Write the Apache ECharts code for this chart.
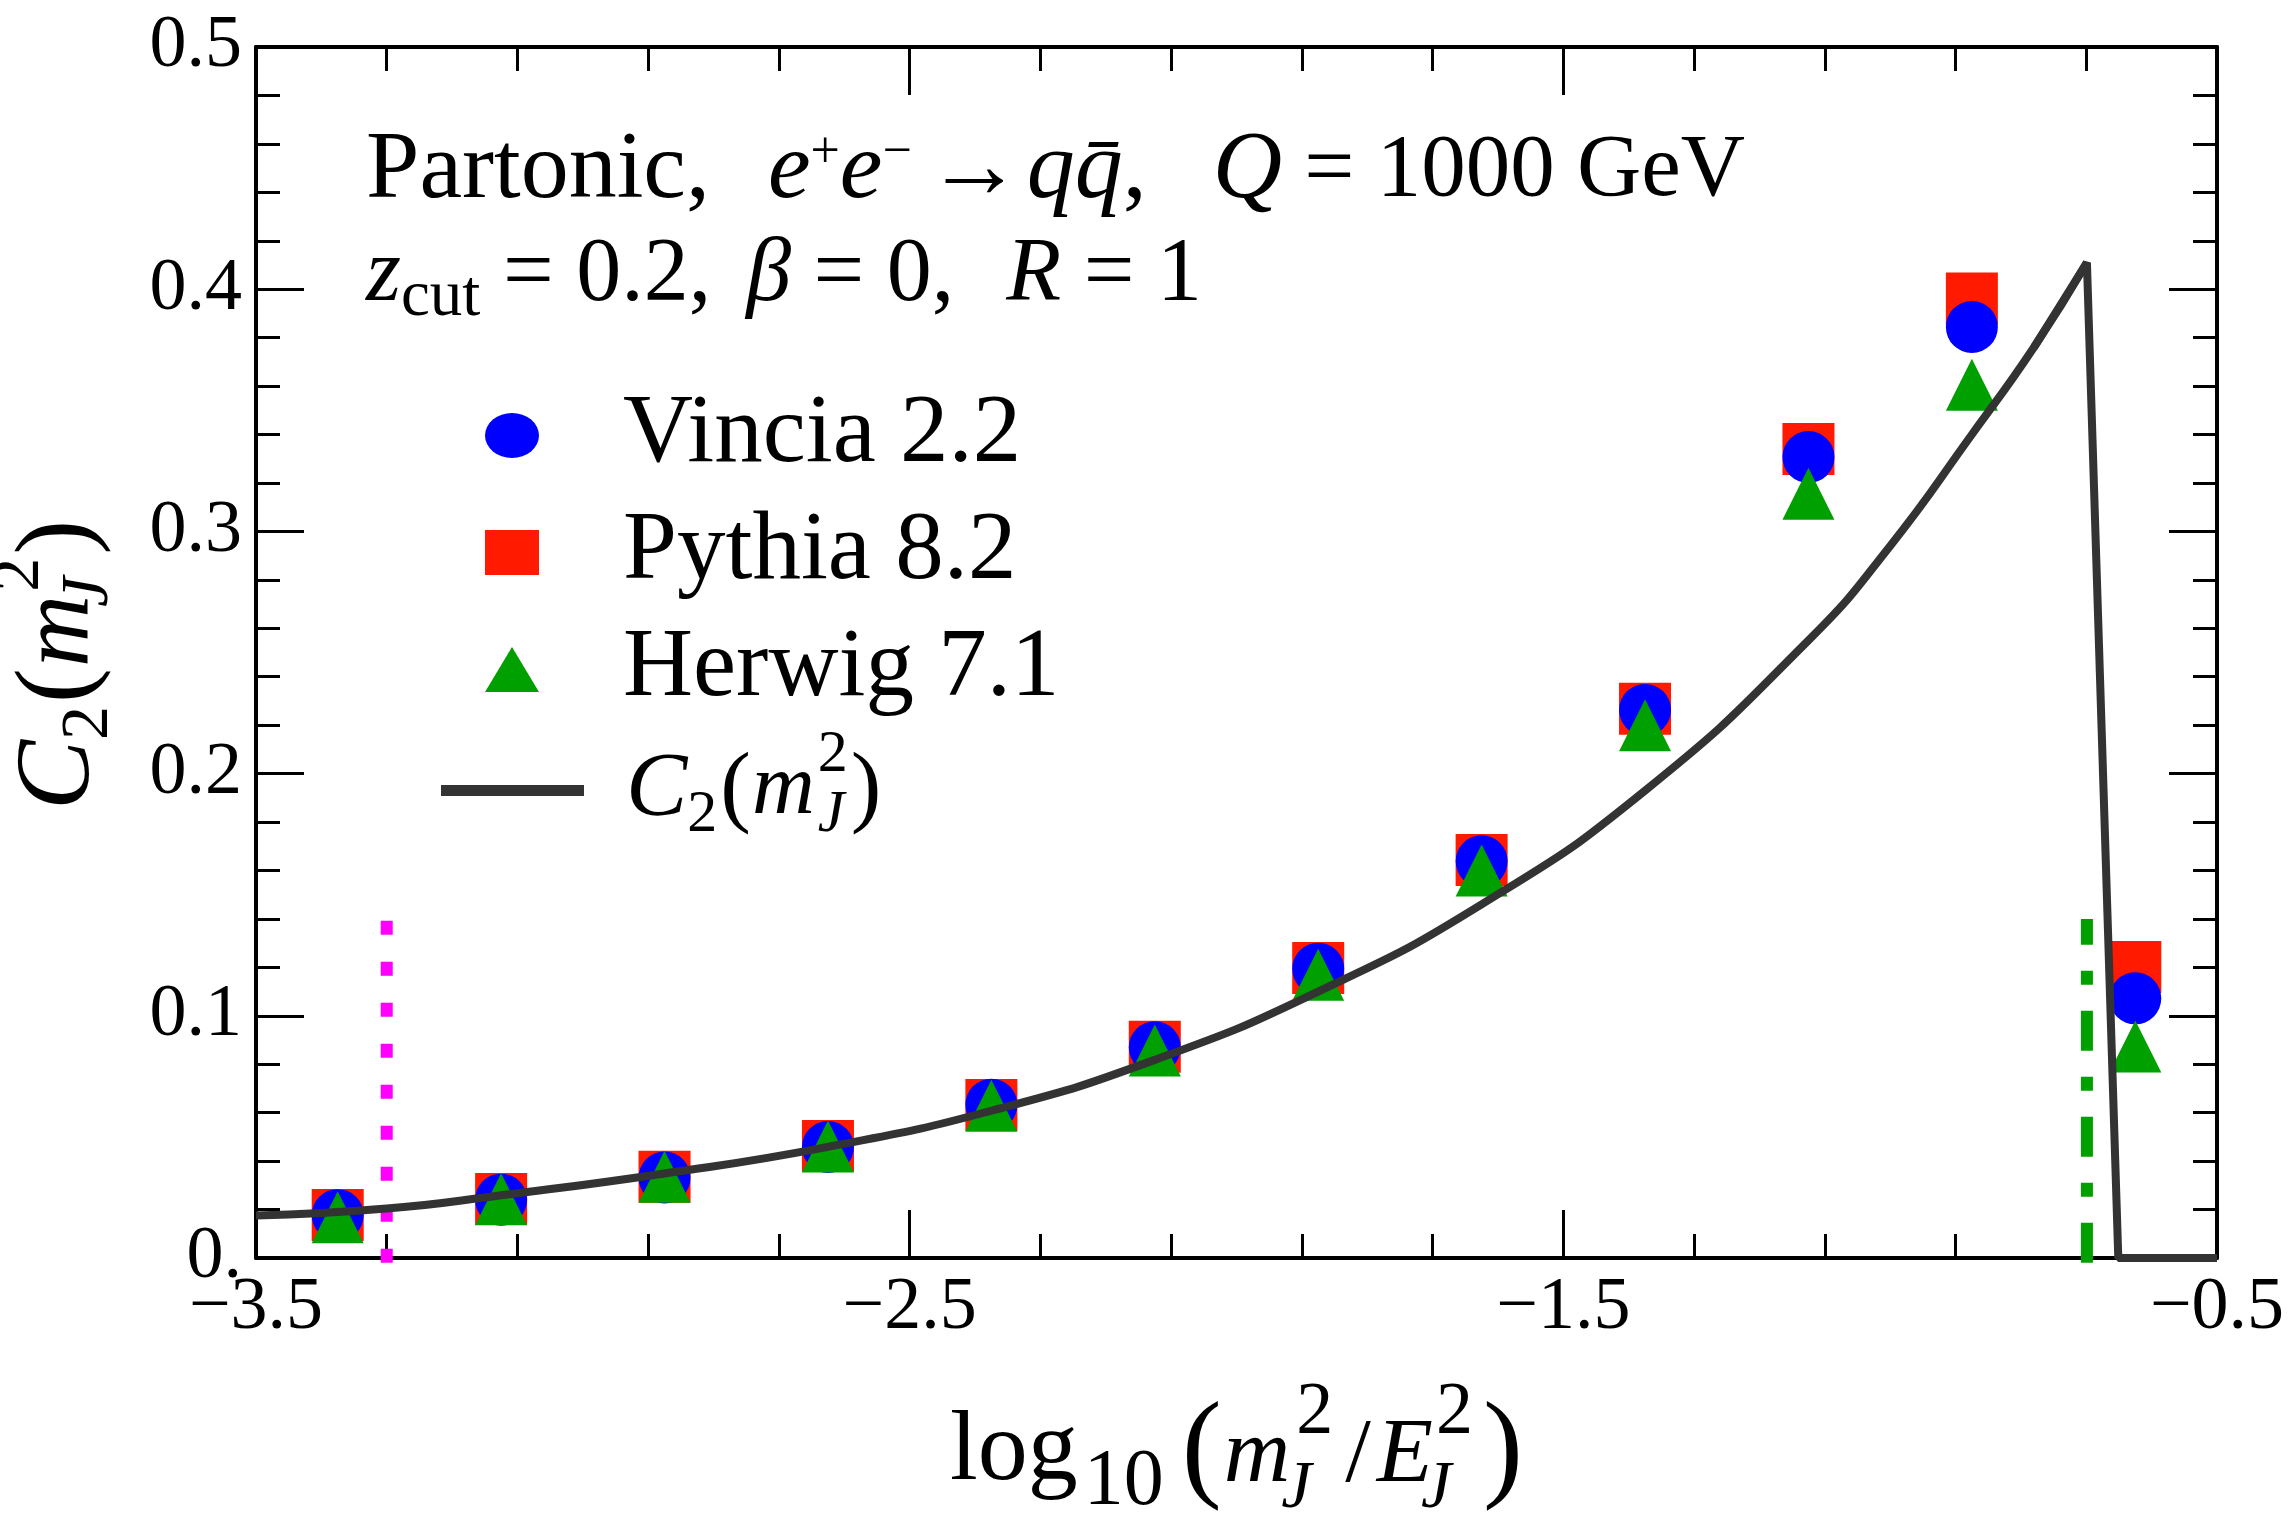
<!DOCTYPE html>
<html>
<head>
<meta charset="utf-8">
<title>C2(mJ^2) partonic</title>
<script src="https://cdn.jsdelivr.net/npm/echarts@6/dist/echarts.min.js"></script>
<style>
  html, body { margin: 0; padding: 0; background: #ffffff; }
  #mainBox { width: 2292px; height: 1525px; }
</style>
</head>
<body>
<div id="mainBox"></div>
<script>
// bin centres, log10(mJ^2/EJ^2)
var binX = [-3.375, -3.125, -2.875, -2.625, -2.375, -2.125, -1.875, -1.625, -1.375, -1.125, -0.875, -0.625];
// parton shower results
var vincia = [0.0177, 0.0241, 0.0332, 0.0458, 0.0633, 0.0870, 0.1194, 0.1638, 0.2263, 0.3307, 0.3844, 0.1072];
var pythia = [0.0178, 0.0244, 0.0335, 0.0462, 0.0632, 0.0872, 0.1197, 0.1643, 0.2268, 0.3340, 0.3962, 0.1202];
var herwig = [0.0168, 0.0243, 0.0335, 0.0460, 0.0629, 0.0857, 0.1170, 0.1600, 0.2200, 0.3155, 0.3605, 0.0873];

// analytic C2(mJ^2) curve, rising part up to the z_cut endpoint
var curveX = [-3.5, -3.3, -3.125, -2.875, -2.625, -2.375, -2.125, -1.875, -1.625, -1.375, -1.125, -1.0, -0.875, -0.78, -0.699];
var curveY = [0.0175, 0.0204, 0.0259, 0.0349, 0.0459, 0.0608, 0.0818, 0.110, 0.146, 0.193, 0.255, 0.294, 0.340, 0.376, 0.411];
// after the endpoint it drops to zero
var dropX = [-0.651, -0.5];
var dropY = [0, 0];

// vertical marker lines
var magentaX = -3.3;
var greenX = -0.699;
var markerY = [-0.002, 0.14];

// axes: min, max, step
var xRange = [-3.5, -0.5, 1];
var yRange = [0, 0.5, 0.1];

var FONT = "'Liberation Serif', 'Times New Roman', serif";

function pairs(xs, ys) {
    return xs.map(function (x, i) { return [x, ys[i]]; });
}

// one rich-text token style
function tok(size, lh, extra) {
    var t = { fontFamily: FONT, fontSize: Math.round(size), lineHeight: Math.round(lh), color: '#000', fill: '#000' };
    for (var k in extra) t[k] = extra[k];
    return t;
}
function pad(a, b, c, d) { return [Math.round(a), Math.round(b), Math.round(c), Math.round(d)]; }

// C_2(m_J^2) label
var c2Text = '{ci|C}{s2|2}{po|(}{mi|m}{jz|J}{sp|2}{pc|)}';
function c2Rich(F, lh, tail) {
    return {
        ci: tok(F, lh, { fontStyle: 'italic' }),
        s2: tok(0.65 * F, lh, { padding: pad(0.54 * F, 0, 0, 0) }),
        po: tok(F, lh, { padding: pad(0, 0.01 * F, 0, 0.03 * F) }),
        mi: tok(0.95 * F, lh, { fontStyle: 'italic', padding: pad(0, 0.03 * F, 0, 0) }),
        jz: tok(0.65 * F, lh, { fontStyle: 'italic', width: 0, padding: pad(0.54 * F, 0, 0, 0) }),
        sp: tok(0.65 * F, lh, { padding: pad(0, 0.03 * F, 0.77 * F, 0) }),
        pc: tok(F, lh, { padding: pad(0, tail, 0, 0) })
    };
}

// log10(m_J^2/E_J^2) label
var xNameText = '{lg|log}{s10|10}{po|(}{mi|m}{jz|J}{s2|2}{sl|/}{ei|E}{jz|J}{s2b|2}{pc|)}';
var xNameRich = {
    lg: tok(100, 130, { padding: [0, 6, 0, 0] }),
    s10: tok(80, 130, { padding: [60, 18, 0, 0] }),
    po: tok(120, 130, { padding: [0, 2, 0, 0] }),
    mi: tok(92, 130, { fontStyle: 'italic', padding: [8, 6, 0, 0] }),
    jz: tok(68, 130, { fontStyle: 'italic', width: 0, padding: [72, 0, 0, 0] }),
    s2: tok(74, 130, { padding: [0, 12, 78, 0] }),
    sl: tok(92, 130, { padding: [8, 6, 0, 0] }),
    ei: tok(92, 130, { fontStyle: 'italic', padding: [8, 3, 0, 0] }),
    s2b: tok(74, 130, { padding: [0, 10, 78, 0] }),
    pc: tok(120, 130, {})
};

// annotation lines
var line1Text = '{a|Partonic,}{e|e}{sp|+}{e|e}{sp|\u2212}{ar|\u2192}{e|q}{e|q\u0304}{c|,}{e|Q}{r| = 1000 GeV}';
var line1Rich = {
    a: tok(96, 125, { padding: [0, 58, 0, 0] }),
    e: tok(96, 125, { fontStyle: 'italic' }),
    sp: tok(52, 125, { padding: [0, 0, 38, 0] }),
    ar: tok(97, 125, { padding: [0, 4, 0, 14] }),
    c: tok(96, 125, { padding: [0, 66, 0, 0] }),
    r: tok(89, 125, {})
};
var line2Text = '{e|z}{sb|cut}{r2| = 0.2,}{e|\u03b2}{r3| = 0,}{e|R}{r| = 1}';
var line2Rich = {
    e: tok(90, 117, { fontStyle: 'italic' }),
    sb: tok(65, 117, { padding: [43, 0, 0, 0] }),
    r2: tok(90, 117, { padding: [0, 35, 0, 0] }),
    r3: tok(90, 117, { padding: [0, 52, 0, 0] }),
    r: tok(90, 117, {})
};

var myChart = echarts.init(document.getElementById('mainBox'));

function frameAxis(kind, pos, range, showLabel, fmt) {
    return {
        type: 'value',
        position: pos,
        min: range[0],
        max: range[1],
        interval: range[2],
        axisLine: { show: true, onZero: false, lineStyle: { color: '#000', width: 4 } },
        axisTick: { show: true, inside: true, length: 48, lineStyle: { color: '#000', width: 3 } },
        minorTick: { show: true, splitNumber: 5, length: 24, lineStyle: { color: '#000', width: 3 } },
        splitLine: { show: false },
        minorSplitLine: { show: false },
        axisLabel: {
            show: showLabel,
            showMinLabel: true,
            showMaxLabel: true,
            fontFamily: FONT,
            fontSize: 74,
            color: '#000',
            margin: 14,
            formatter: fmt
        }
    };
}

function fmtX(v) {
    return (v < 0 ? '\u2212' : '') + Math.abs(v).toFixed(1);
}
function fmtY(v) {
    return v === 0 ? '0.' : v.toFixed(1);
}

var xBottom = frameAxis('x', 'bottom', xRange, true, fmtX);
xBottom.name = xNameText;
xBottom.nameLocation = 'middle';
xBottom.nameGap = 130;
xBottom.nameTextStyle = { rich: xNameRich };

var yLeft = frameAxis('y', 'left', yRange, true, fmtY);
yLeft.name = c2Text;
yLeft.nameLocation = 'middle';
yLeft.nameRotate = 90;
yLeft.nameGap = 135;
yLeft.nameTextStyle = { rich: c2Rich(105, 121, 25) };

var option = {
    animation: false,
    backgroundColor: '#ffffff',
    grid: { left: 256, right: 75, top: 47, bottom: 267, containLabel: false, outerBoundsMode: 'none' },
    xAxis: [xBottom, frameAxis('x', 'top', xRange, false, fmtX)],
    yAxis: [yLeft, frameAxis('y', 'right', yRange, false, fmtY)],
    legend: [
        {
            orient: 'vertical',
            left: 485,
            top: 377,
            padding: 0,
            itemGap: 0,
            itemWidth: 54,
            itemHeight: 45,
            selectedMode: false,
            itemStyle: { borderWidth: 0 },
            textStyle: { fontFamily: FONT, fontSize: 97, color: '#000', lineHeight: 117, padding: [0, 0, 0, 79] },
            data: [
                { name: 'Vincia 2.2', icon: 'path://M0,22.5A27,22.5 0 1,1 54,22.5A27,22.5 0 1,1 0,22.5Z' },
                { name: 'Pythia 8.2', icon: 'rect' },
                { name: 'Herwig 7.1', icon: 'triangle' }
            ]
        },
        {
            orient: 'vertical',
            left: 441,
            top: 725,
            padding: 0,
            itemWidth: 143,
            itemHeight: 11,
            selectedMode: false,
            itemStyle: { borderWidth: 0 },
            formatter: function () { return c2Text; },
            textStyle: { fontFamily: FONT, fontSize: 92, color: '#000', padding: [0, 0, 0, 37], rich: c2Rich(92, 123, 0) },
            data: [{ name: 'C2', icon: 'rect' }]
        }
    ],
    graphic: [
        {
            type: 'text',
            x: 366,
            y: 172,
            style: {
                text: line1Text,
                rich: line1Rich,
                fontFamily: FONT,
                fontSize: 96,
                fill: '#000',
                align: 'left',
                verticalAlign: 'middle'
            }
        },
        {
            type: 'text',
            x: 366,
            y: 276,
            style: {
                text: line2Text,
                rich: line2Rich,
                fontFamily: FONT,
                fontSize: 90,
                fill: '#000',
                align: 'left',
                verticalAlign: 'middle'
            }
        }
    ],
    series: [
        {
            name: 'mag',
            type: 'line',
            silent: true,
            clip: false,
            symbol: 'none',
            data: pairs([magentaX, magentaX], markerY),
            lineStyle: { color: '#ff00ff', width: 12, type: [14, 27], cap: 'butt' }
        },
        {
            name: 'grn',
            type: 'line',
            silent: true,
            clip: false,
            symbol: 'none',
            data: pairs([greenX, greenX], markerY),
            lineStyle: { color: '#00a000', width: 12, type: [40, 26, 14, 26], cap: 'butt' }
        },
        {
            name: 'C2',
            type: 'line',
            color: '#333333',
            symbol: 'none',
            smooth: 0.5,
            data: pairs(curveX, curveY),
            lineStyle: { color: '#333333', width: 8 }
        },
        {
            name: 'C2',
            type: 'line',
            color: '#333333',
            symbol: 'none',
            clip: false,
            data: pairs(curveX.slice(-2).concat(dropX), curveY.slice(-2).concat(dropY)),
            lineStyle: { color: '#333333', width: 8, join: 'bevel' }
        },
        {
            name: 'Pythia 8.2',
            type: 'scatter',
            symbol: 'rect',
            symbolSize: 52,
            itemStyle: { color: '#ff1a00', opacity: 1 },
            data: pairs(binX, pythia)
        },
        {
            name: 'Vincia 2.2',
            type: 'scatter',
            symbol: 'circle',
            symbolSize: 52,
            itemStyle: { color: '#0000ff', opacity: 1 },
            data: pairs(binX, vincia)
        },
        {
            name: 'Herwig 7.1',
            type: 'scatter',
            symbol: 'triangle',
            symbolSize: 52,
            itemStyle: { color: '#00a000', opacity: 1 },
            data: pairs(binX, herwig)
        }
    ]
};

myChart.setOption(option);
</script>
</body>
</html>
